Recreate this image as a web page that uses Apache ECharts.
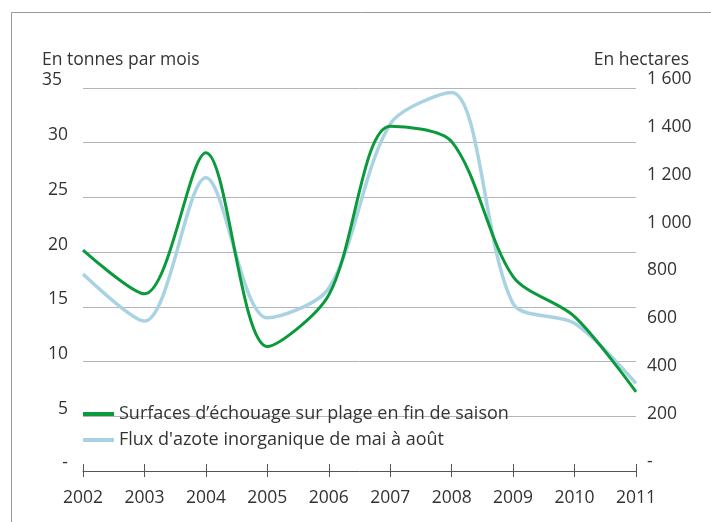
<!DOCTYPE html>
<html>
<head>
<meta charset="utf-8">
<script src="https://cdn.jsdelivr.net/npm/echarts@6/dist/echarts.min.js"></script>
<style>
  html, body { margin: 0; padding: 0; background: #fff; }
  #chart { width: 711px; height: 522px; }
</style>
</head>
<body>
<div id="chart"></div>
<script>
// années (axe horizontal)
const years = ['2002', '2003', '2004', '2005', '2006', '2007', '2008', '2009', '2010', '2011'];

// surfaces d'échouage, en hectares (axe de droite)
const surfaces = [923, 740, 1330, 520, 735, 1440, 1376, 812, 645, 331];

// flux d'azote inorganique, en tonnes par mois (axe de gauche)
const fluxAzote = [18.0, 13.7, 26.8, 14.0, 16.7, 31.7, 34.6, 15.3, 13.5, 8.0];

const leftTicks = { min: 0, max: 35, interval: 5 };
const rightTicks = { min: 0, max: 1600, interval: 200 };

const serieNames = [
    'Surfaces d\u2019échouage sur plage en fin de saison',
    'Flux d\'azote inorganique de mai à août'
];

const FONT = 'Open Sans';
const FS = 17.5;
const TXT = '#333';

const chart = echarts.init(document.getElementById('chart'));

// format "1 600" pour les hectares, "-" pour zéro
function fmtHa(v) {
    if (v === 0) return '-';
    return v >= 1000 ? Math.floor(v / 1000) + ' ' + String(v % 1000).padStart(3, '0') : String(v);
}

const option = {
    backgroundColor: '#fff',
    animation: false,
    textStyle: { fontFamily: FONT },
    graphic: [
        {
            type: 'polyline',
            shape: { points: [[11.5, 522], [11.5, 12.5], [711, 12.5]] },
            style: { stroke: '#999', lineWidth: 1, fill: null }
        }
    ],
    title: [
        { text: 'En tonnes par mois', left: 42, top: 51, padding: 0,
          textStyle: { fontFamily: FONT, fontSize: FS, fontWeight: 'normal', color: TXT } },
        { text: 'En hectares', right: 22, top: 51, padding: 0,
          textStyle: { fontFamily: FONT, fontSize: FS, fontWeight: 'normal', color: TXT } }
    ],
    legend: {
        orient: 'vertical',
        left: 83,
        top: 405,
        padding: 0,
        itemGap: 8,
        itemWidth: 31,
        itemHeight: 4,
        icon: 'rect',
        data: serieNames,
        textStyle: { fontFamily: FONT, fontSize: 18, color: TXT, lineHeight: 17 }
    },
    grid: { left: 83, right: 75, top: 88, bottom: 51, containLabel: false },
    xAxis: [
        {
            type: 'category',
            position: 'bottom',
            data: years,
            boundaryGap: false,
            axisLine: { lineStyle: { color: '#555', width: 1 } },
            axisTick: { show: true, length: 6, lineStyle: { color: '#555' } },
            axisLabel: { fontFamily: FONT, fontSize: FS, color: TXT, margin: 18 },
            splitLine: { show: false }
        },
        {
            type: 'category',
            position: 'bottom',
            data: years,
            boundaryGap: false,
            axisLine: { show: false },
            axisTick: { show: true, inside: true, length: 7, lineStyle: { color: '#555' } },
            axisLabel: { show: false },
            splitLine: { show: false }
        }
    ],
    yAxis: [
        {
            type: 'value',
            position: 'left',
            min: leftTicks.min, max: leftTicks.max, interval: leftTicks.interval,
            axisLine: { show: false },
            axisTick: { show: false },
            axisLabel: {
                fontFamily: FONT, fontSize: FS, color: TXT, margin: 15,
                verticalAlign: 'middle',
                padding: [0, 0, 15, 0],
                formatter: v => v === 0 ? '-' : (v === 35 ? '{a|35}' : String(v)),
                rich: { a: { fontFamily: FONT, fontSize: FS, color: TXT, padding: [0, 6, 0, 0] } }
            },
            splitLine: { show: true, lineStyle: { color: '#b4b4bc', width: 1 } }
        },
        {
            type: 'value',
            position: 'right',
            min: rightTicks.min, max: rightTicks.max, interval: rightTicks.interval,
            axisLine: { show: false },
            axisTick: { show: false },
            axisLabel: {
                fontFamily: FONT, fontSize: FS, color: TXT, margin: 11,
                verticalAlign: 'bottom',
                formatter: fmtHa
            },
            splitLine: { show: false }
        }
    ],
    series: [
        {
            name: serieNames[1],
            type: 'line',
            yAxisIndex: 0,
            data: fluxAzote,
            smooth: 0.3,
            symbol: 'none',
            lineStyle: { color: '#a9d3e3', width: 3.5 },
            itemStyle: { color: '#a9d3e3' },
            z: 2
        },
        {
            name: serieNames[0],
            type: 'line',
            yAxisIndex: 1,
            data: surfaces,
            smooth: 0.3,
            symbol: 'none',
            lineStyle: { color: '#0a9a3c', width: 3 },
            itemStyle: { color: '#0a9a3c' },
            z: 3
        }
    ]
};

chart.setOption(option);
</script>
</body>
</html>
